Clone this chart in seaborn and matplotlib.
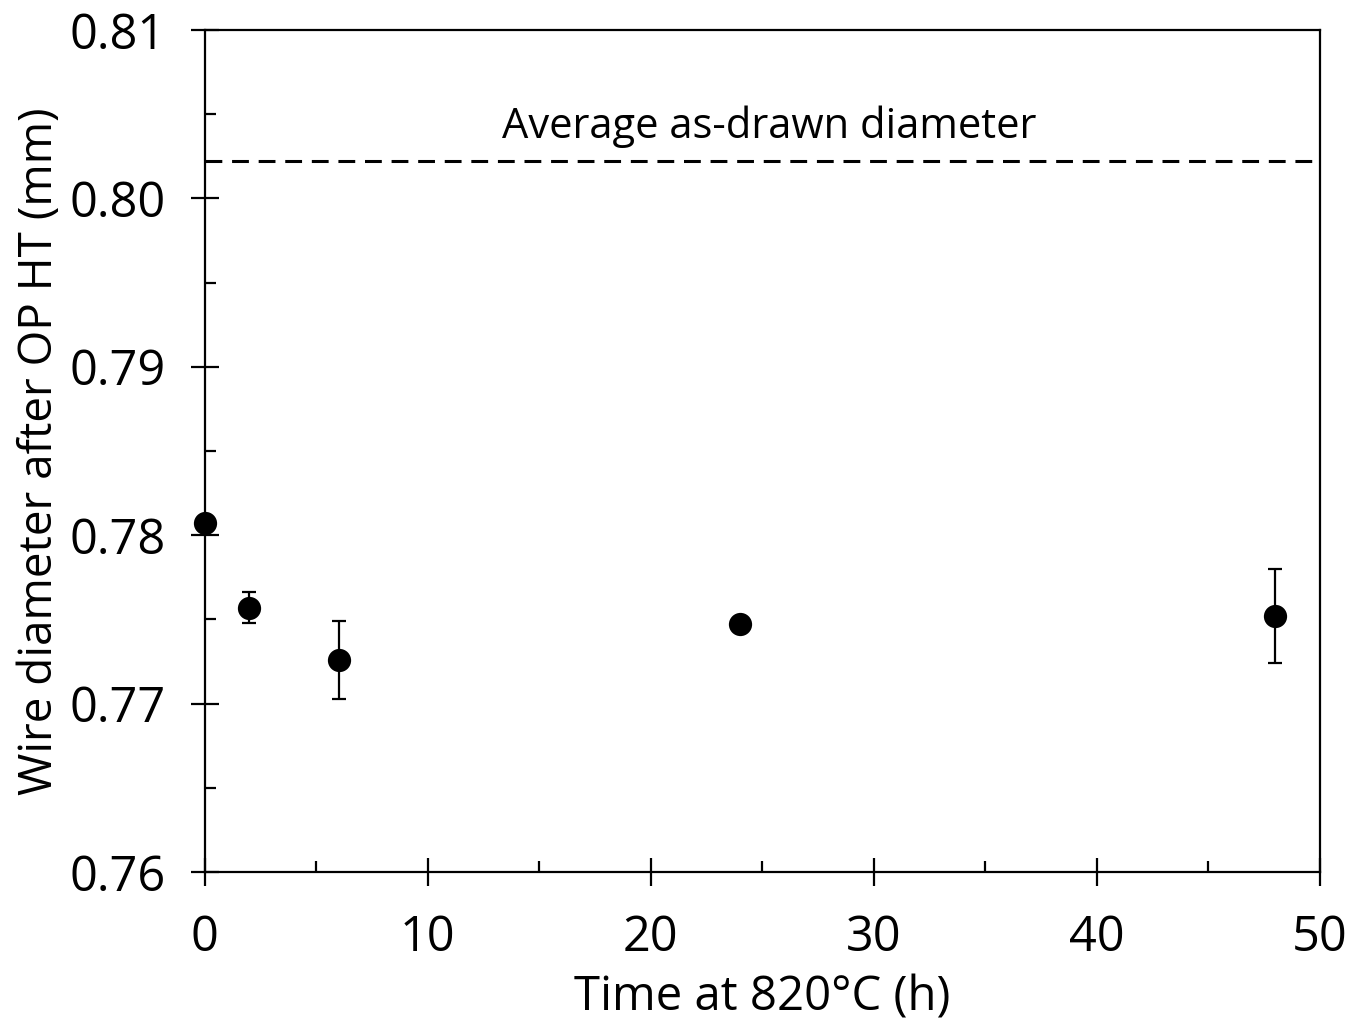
import matplotlib
matplotlib.use("Agg")
import matplotlib.pyplot as plt
import seaborn as sns
import pandas as pd
from matplotlib.ticker import MultipleLocator, FormatStrFormatter

time_h = [0, 2, 6, 24, 48]
diameter_mm = [0.7807, 0.7757, 0.7726, 0.7747, 0.7752]
err_mm = [0.0003, 0.0009, 0.0023, 0.0003, 0.0028]
as_drawn_mm = 0.8022
ref_label = "Average as-drawn diameter"
x_label = "Time at 820°C (h)"
y_label = "Wire diameter after OP HT (mm)"

sns.set_theme(style="white")
plt.rcParams['font.family'] = ['Open Sans', 'DejaVu Sans']

df = pd.DataFrame({"t": time_h, "d": diameter_mm, "e": err_mm})

fig = plt.figure(figsize=(13.65, 10.30), dpi=100)
ax = fig.add_axes([0.150, 0.1534, 0.817, 0.8176])

ax.errorbar(df["t"], df["d"], yerr=df["e"], fmt="none", ecolor="black",
            elinewidth=1.6, capsize=5, capthick=1.6, zorder=3, clip_on=False)
sns.scatterplot(data=df, x="t", y="d", ax=ax, color="black", s=280,
                edgecolor="black", linewidth=0, zorder=4, clip_on=False, legend=False)

ax.plot([0, 50], [as_drawn_mm, as_drawn_mm], color="black", lw=2.2,
        dashes=(5.5, 3.2), zorder=2)
ax.text(25.3, 0.8036, ref_label, ha="center", va="baseline", fontsize=30, color="black")

ax.set_xlim(0, 50)
ax.set_ylim(0.76, 0.81)
ax.xaxis.set_major_locator(MultipleLocator(10))
ax.xaxis.set_minor_locator(MultipleLocator(5))
ax.yaxis.set_major_locator(MultipleLocator(0.01))
ax.yaxis.set_minor_locator(MultipleLocator(0.005))
ax.yaxis.set_major_formatter(FormatStrFormatter('%.2f'))

ax.tick_params(axis="both", which="both", bottom=True, left=True, top=False, right=False)
ax.tick_params(axis="both", which="major", direction="inout", length=20, width=1.6,
               labelsize=35, colors="black")
ax.tick_params(axis="both", which="minor", direction="in", length=8, width=1.6, colors="black")
ax.tick_params(axis="y", which="major", pad=18)
ax.tick_params(axis="x", which="major", pad=20)

for sp in ax.spines.values():
    sp.set_color("black")
    sp.set_linewidth(1.6)

ax.set_xlabel(x_label, fontsize=34, color="black", labelpad=8)
ax.set_ylabel(y_label, fontsize=33, color="black", labelpad=5)

fig.savefig("out.png", dpi=100, facecolor="white")
